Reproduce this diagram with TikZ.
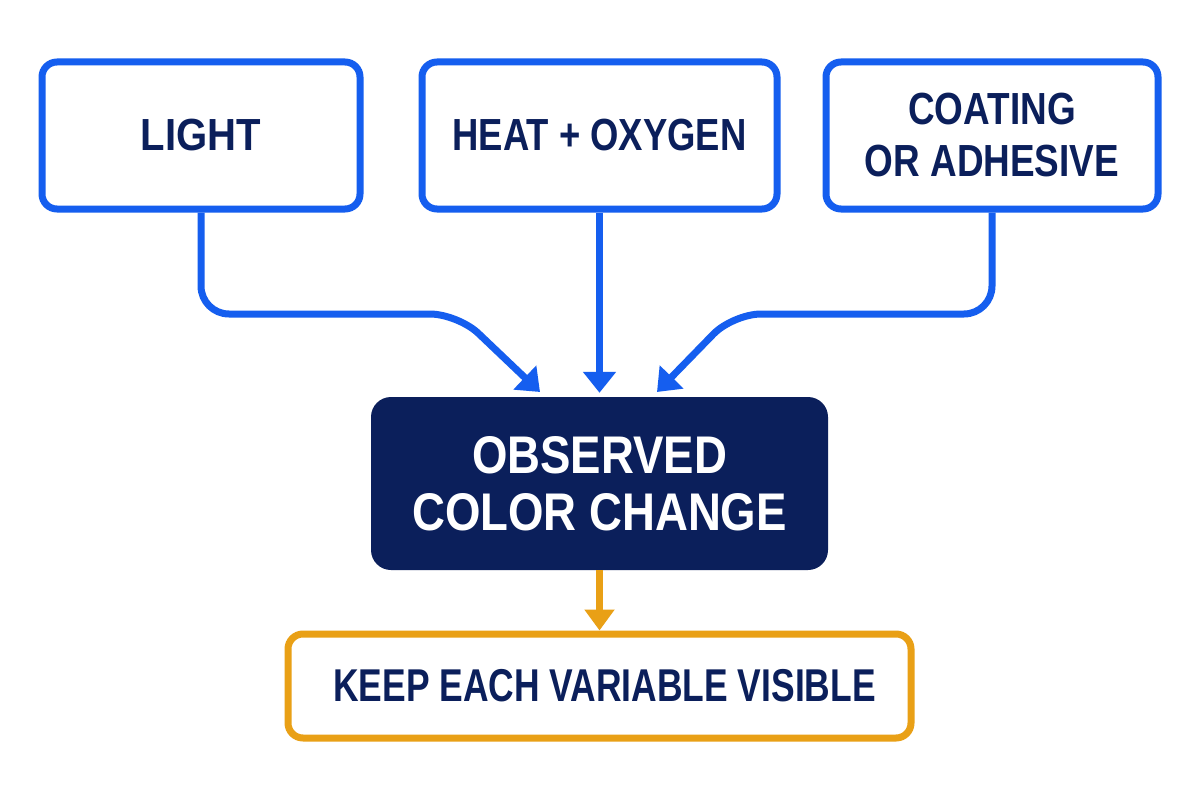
\documentclass[tikz,border=0pt]{standalone}
\usepackage{fontspec}
\newfontfamily\labL{Liberation Sans}[FakeStretch=0.89]
\newfontfamily\labH{Liberation Sans}[FakeStretch=0.81]
\newfontfamily\labC{Liberation Sans}[FakeStretch=0.82]
\newfontfamily\labO{Liberation Sans}[FakeStretch=0.86]
\newfontfamily\labK{Liberation Sans}[FakeStretch=0.77]
\usetikzlibrary{arrows.meta}
\definecolor{cblue}{RGB}{21,94,239}
\definecolor{cnavy}{RGB}{11,31,91}
\definecolor{corange}{RGB}{233,160,22}
\begin{document}
\begin{tikzpicture}[x=1pt,y=-1pt,
  topbox/.style={draw=cblue, line width=7pt, rounded corners=15pt, fill=white,
    minimum height=147pt, inner sep=0pt, text=cnavy, align=center},
  conn/.style={draw=cblue, line width=7pt, -{Triangle[width=32pt,length=21pt]},
    rounded corners=28pt},
  oconn/.style={draw=corange, line width=7pt, -{Triangle[width=29pt,length=21pt]}},
]
\useasboundingbox (0,0) rectangle (1200,800);
\fill[white] (0,0) rectangle (1200,800);
\node[topbox, minimum width=318pt, font=\labL\bfseries\fontsize{45}{52}\selectfont] (light) at (201,135.5) {LIGHT};
\node[topbox, minimum width=355pt, font=\labH\bfseries\fontsize{45}{52}\selectfont] (heat) at (599.5,135.5) {HEAT + OXYGEN};
\node[topbox, minimum width=332pt, font=\labC\bfseries\fontsize{45}{52}\selectfont] (coat) at (992,135.5) {COATING\\OR ADHESIVE};
\node[fill=cnavy, rounded corners=20pt, minimum width=457pt, minimum height=173pt,
  inner sep=0pt, text=white, align=center, font=\labO\bfseries\fontsize{53}{57}\selectfont]
  (obs) at (599.5,483.5) {OBSERVED\\COLOR CHANGE};
\node[draw=corange, line width=7pt, rounded corners=15pt, fill=white, minimum width=623pt,
  minimum height=104pt, inner sep=0pt, text=cnavy, font=\labK\bfseries\fontsize{46}{52}\selectfont]
  (keep) at (599.5,686) {\hspace{10pt}KEEP EACH VARIABLE VISIBLE};
\coordinate (lt) at (540,392);
\coordinate (rt) at (657,392);
\coordinate (lbend) at (458,314);
\coordinate (rbend) at (733,314);
\draw[conn] (light.south) -- (light.south |- lbend) -- (lbend) -- (lt);
\draw[conn] (heat.south) -- ([yshift=4pt]obs.north);
\draw[conn] (coat.south) -- (coat.south |- rbend) -- (rbend) -- (rt);
\draw[oconn] (obs.south) -- (keep.north);
\end{tikzpicture}
\end{document}
